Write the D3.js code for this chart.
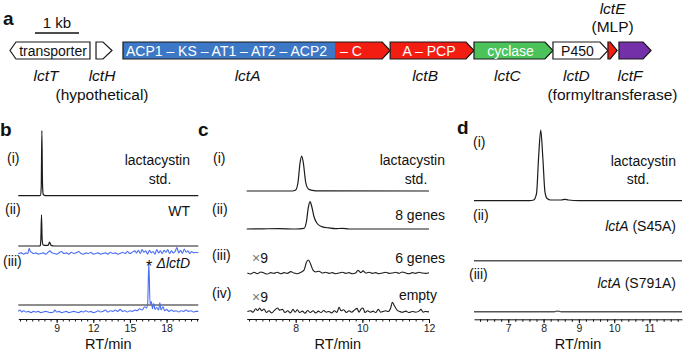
<!DOCTYPE html>
<html><head><meta charset="utf-8">
<script src="https://cdn.jsdelivr.net/npm/d3@7"></script>
<style>
body{margin:0;background:#fff}
svg text{font-family:"Liberation Sans",Arial,Helvetica,sans-serif;fill:#111}
</style></head>
<body><svg id="chart" width="685" height="351"></svg>
<script>
// ---------------- DATA ----------------
// Panel a: gene cluster (kb)
const geneNames   = ["lctT","lctH","lctA","lctB","lctC","lctD","lctE","lctF"];
const geneStartKb = [0, 1.955, 2.568, 8.64, 10.545, 12.34, 13.59, 13.84];
const geneEndKb   = [1.818, 2.318, 8.64, 10.545, 12.34, 13.59, 13.80, 14.57];
const geneStrand  = [-1, 1, 1, 1, 1, 1, 1, 1];
const geneDomains = ["transporter", "", "ACP1 – KS – AT1 – AT2 – ACP2", "A – PCP", "cyclase", "P450", "", ""];
const geneNotes   = ["", "(hypothetical)", "", "", "", "(formyltransferase)", "(MLP)", ""];
const lctA_C_startKb = 7.386;   // start of the C domain in lctA
const scaleBarKb = 1;

// Panel b: RT (min) vs intensity (std. peak = 100)
const bTicks = [9, 12, 15, 18];
const bStd = [[5.86,0],[7.6,0],[7.68,0.5],[7.74,15],[7.79,100],[7.84,20],[7.9,2],[8.0,0.5],[8.2,0],[20.6,0]];
const bWT = [[5.86,0],[7.6,0],[7.66,1],[7.71,12],[7.76,48],[7.81,12],[7.88,2],[8.0,1],[8.3,1],[8.42,6],[8.55,1],[8.8,0],[20.6,0]];
const bWTblue = [[5.86,0],[6.1,1],[6.3,-1],[6.5,1],[6.65,0],[6.75,8],[6.85,3],[6.95,2],[7.1,0],[7.3,1],[7.5,-1],[7.7,0],[7.9,1],[8.1,-1],[8.3,2],[8.45,4],[8.6,1],[8.8,0],[9.0,-1],[9.2,1],[9.4,3],[9.6,0],[9.8,1],[10.0,-1],[10.2,2],[10.4,0],[10.6,1],[10.8,3],[11.0,0],[11.2,-1],[11.4,1],[11.6,0],[11.8,2],[12.0,-1],[12.2,0],[12.4,1],[12.6,-1],[12.8,0],[13.0,1],[13.2,-1],[13.4,2],[13.6,0],[13.8,1],[14.0,-1],[14.2,0],[14.4,2],[14.6,0],[14.8,3],[15.0,0],[15.2,2],[15.4,4],[15.55,1],[15.7,5],[15.85,0],[16.0,6],[16.15,2],[16.3,4],[16.45,-1],[16.6,5],[16.75,1],[16.9,3],[17.05,-1],[17.2,6],[17.35,1],[17.5,4],[17.65,0],[17.8,5],[17.95,2],[18.1,6],[18.25,0],[18.4,4],[18.55,1],[18.7,3],[18.85,9],[19.0,1],[19.15,5],[19.3,0],[19.45,7],[19.6,2],[19.75,4],[19.9,0],[20.05,3],[20.2,1],[20.4,2],[20.6,1]];
const bDlctD = [[5.86,0],[20.6,0]];
const bDlctDblue = [[5.86,1],[6.0,3],[6.15,0],[6.3,2],[6.5,0],[6.7,1],[6.9,-1],[7.1,1],[7.3,0],[7.5,1],[7.7,-1],[7.9,0],[8.1,1],[8.3,0],[8.5,-1],[8.75,0],[8.85,3],[9.0,0],[9.2,1],[9.4,-1],[9.6,0],[9.8,1],[10.0,-1],[10.2,0],[10.4,1],[10.6,0],[10.8,-1],[11.0,1],[11.2,0],[11.4,2],[11.6,0],[11.8,1],[12.0,-1],[12.2,0],[12.4,2],[12.6,0],[12.8,1],[13.0,3],[13.2,0],[13.4,2],[13.6,1],[13.8,3],[14.0,1],[14.2,4],[14.4,1],[14.6,2],[14.8,0],[15.0,2],[15.2,1],[15.4,3],[15.6,2],[15.8,5],[16.0,3],[16.2,8],[16.35,6],[16.45,12],[16.55,75],[16.65,12],[16.75,16],[16.85,5],[16.95,13],[17.05,4],[17.2,7],[17.35,3],[17.45,14],[17.55,3],[17.7,8],[17.85,2],[18.0,4],[18.2,1],[18.4,3],[18.6,1],[18.8,2],[19.0,0],[19.2,2],[19.4,1],[19.6,3],[19.8,1],[20.0,2],[20.2,0],[20.4,1],[20.6,1]];

// Panel c
const cTicks = [8, 10, 12];
const cStd = [[6.53,0],[7.9,0],[8.0,3],[8.07,25],[8.13,80],[8.18,100],[8.23,80],[8.3,25],[8.38,6],[8.5,2],[8.7,0.5],[12,0]];
const c8genes = [[6.53,0],[7.0,0.5],[7.5,1],[8.0,0],[8.25,2],[8.32,20],[8.38,62],[8.43,78],[8.48,65],[8.55,35],[8.65,15],[8.8,6],[9.0,3],[9.2,1],[9.4,2],[9.6,0],[12,0]];
const c6genes = [[6.55,0],[6.65,-3],[6.75,2],[6.85,-2],[6.95,3],[7.05,0],[7.15,-3],[7.25,1],[7.35,-1],[7.45,2],[7.55,-2],[7.65,1],[7.75,-1],[7.85,4],[7.95,0],[8.05,-2],[8.15,2],[8.25,8],[8.32,30],[8.38,37],[8.45,25],[8.52,8],[8.6,3],[8.7,5],[8.8,0],[8.9,2],[9.0,-1],[9.1,1],[9.2,-2],[9.3,0],[9.4,2],[9.5,-1],[9.6,1],[9.7,-2],[9.8,0],[9.87,8],[9.95,1],[10.02,6],[10.1,0],[10.2,2],[10.3,-1],[10.4,1],[10.5,-2],[10.6,0],[10.7,2],[10.8,-1],[10.9,0],[11.0,2],[11.1,-1],[11.2,3],[11.3,0],[11.4,-2],[11.5,1],[11.6,-1],[11.7,2],[11.8,0],[11.9,-1],[12.0,1]];
const cEmpty = [[6.55,0],[6.65,2],[6.72,-2],[6.8,8],[6.86,3],[6.92,10],[6.98,2],[7.05,7],[7.12,-3],[7.2,2],[7.28,-4],[7.36,3],[7.45,10],[7.52,4],[7.6,6],[7.68,-3],[7.76,2],[7.84,-4],[7.92,6],[7.98,-2],[8.05,5],[8.12,-3],[8.2,1],[8.28,-5],[8.36,3],[8.44,-3],[8.52,2],[8.6,-4],[8.68,1],[8.76,-3],[8.84,3],[8.92,-2],[9.0,0],[9.08,-4],[9.16,2],[9.24,-3],[9.3,12],[9.36,2],[9.44,5],[9.52,-3],[9.6,2],[9.68,-2],[9.76,4],[9.84,9],[9.9,-2],[9.96,7],[10.02,10],[10.08,-3],[10.16,2],[10.24,-2],[10.32,1],[10.4,-3],[10.48,6],[10.55,-2],[10.62,0],[10.7,2],[10.78,0],[10.85,10],[10.9,26],[10.97,15],[11.05,3],[11.12,0],[11.2,-2],[11.3,1],[11.4,-3],[11.5,0],[11.6,-2],[11.7,1],[11.76,6],[11.82,-2],[11.9,0],[12.0,-1]];

// Panel d
const dTicks = [7, 8, 9, 10, 11];
const dStd = [[6.03,0],[7.6,0],[7.72,1],[7.8,10],[7.86,62],[7.92,100],[7.98,60],[8.04,12],[8.1,3],[8.2,1],[8.5,1],[8.6,2],[8.7,1],[9.0,0],[11.92,0]];
const dS45A = [[6.03,0],[11.92,0]];
const dS791A = [[6.03,0],[8.3,0],[8.4,0.8],[8.5,0],[11.92,0]];

// ---------------- DRAW ----------------
const svg = d3.select("#chart");
const FONT = 14;

function txt(x, y, s, opt = {}) {
  const t = svg.append("text").attr("x", x).attr("y", y)
    .attr("font-size", opt.size || FONT)
    .attr("text-anchor", opt.anchor || "start");
  if (opt.bold) t.attr("font-weight", "bold");
  if (opt.italic) t.attr("font-style", "italic");
  if (opt.fill) t.style("fill", opt.fill);
  t.text(s);
  return t;
}

// ---- Panel a ----
const xKb = d3.scaleLinear().domain([0, 1]).range([10, 54]);
const geneTop = 42, geneBot = 59, geneMid = (geneTop + geneBot) / 2;
const geneFill = {lctT:"#ffffff", lctH:"#ffffff", lctA:"#f41d12", lctB:"#f41d12", lctC:"#4cc25b", lctD:"#ffffff", lctE:"#f41d12", lctF:"#7430a8"};
const domainColor = {lctT:"#111", lctA:"#fff", lctB:"#fff", lctC:"#fff", lctD:"#111"};
const headLen = {lctT:6, lctH:9, lctE:7};

function arrowPath(x0, x1, strand, h) {
  h = Math.min(h, x1 - x0);
  if (strand > 0)
    return `M${x0},${geneTop}L${x1-h},${geneTop}L${x1},${geneMid}L${x1-h},${geneBot}L${x0},${geneBot}Z`;
  return `M${x1},${geneTop}L${x0+h},${geneTop}L${x0},${geneMid}L${x0+h},${geneBot}L${x1},${geneBot}Z`;
}

txt(3, 25, "a", {size: 19, bold: true});
// scale bar
const sbX = 35;
svg.append("line").attr("x1", sbX).attr("x2", sbX + xKb(scaleBarKb) - xKb(0))
  .attr("y1", 33).attr("y2", 33).attr("stroke", "#111").attr("stroke-width", 1.3);
txt(sbX + (xKb(scaleBarKb) - xKb(0)) / 2, 28, "1 kb", {anchor: "middle", size: 15});

const defs = svg.append("defs");
geneNames.forEach((name, i) => {
  const x0 = xKb(geneStartKb[i]), x1 = xKb(geneEndKb[i]);
  const h = headLen[name] || 8;
  const p = arrowPath(x0, x1, geneStrand[i], h);
  svg.append("path").attr("d", p).attr("fill", geneFill[name]);
  if (name === "lctA") {
    defs.append("clipPath").attr("id", "clipA").append("path").attr("d", p);
    svg.append("rect").attr("x", x0).attr("y", geneTop)
      .attr("width", xKb(lctA_C_startKb) - x0).attr("height", geneBot - geneTop)
      .attr("fill", "#3d78c6").attr("clip-path", "url(#clipA)");
  }
  svg.append("path").attr("d", p).attr("fill", "none").attr("stroke", "#1a1a1a").attr("stroke-width", 1.2);
});

// domain texts
const iA = geneNames.indexOf("lctA");
txt(xKb(geneStartKb[iA]) + 3, geneMid + 5, geneDomains[iA], {fill: "#fff"});
txt(xKb(lctA_C_startKb) + 5, geneMid + 5, "– C", {fill: "#fff"});
geneNames.forEach((name, i) => {
  if (!geneDomains[i] || name === "lctA") return;
  let cx = (xKb(geneStartKb[i]) + xKb(geneEndKb[i])) / 2;
  if (name === "lctT") cx += 3; else cx -= 3;
  txt(cx, geneMid + 5, geneDomains[i], {anchor: "middle", fill: domainColor[name]});
});

// gene labels
const labelDx = {lctT:-4, lctH:-2, lctA:-9, lctB:-7, lctC:-6, lctD:-4, lctE:0, lctF:-5};
geneNames.forEach((name, i) => {
  const cx = (xKb(geneStartKb[i]) + xKb(geneEndKb[i])) / 2 + labelDx[name];
  if (name === "lctE") {
    txt(cx, 14, name, {anchor: "middle", italic: true, size: 15.5});
    txt(cx, 32, geneNotes[i], {anchor: "middle", size: 15.5});
  } else {
    txt(cx, 81, name, {anchor: "middle", italic: true, size: 15.5});
    if (geneNotes[i]) txt(cx + (name === "lctD" ? 36 : 0), 100, geneNotes[i], {anchor: "middle", size: 15.5});
  }
});

// ---- chromatogram helpers ----
function drawAxis(x, y, major, minorStep, label) {
  const [d0, d1] = x.domain();
  const minor = d3.range(Math.ceil(d0 / minorStep) * minorStep, d1 + 1e-6, minorStep);
  svg.append("g").attr("transform", `translate(0,${y})`)
    .call(d3.axisBottom(x).tickValues(minor).tickSize(2.5).tickFormat("").tickSizeOuter(0))
    .call(g => g.selectAll("line,path").attr("stroke", "#111"));
  const gM = svg.append("g").attr("transform", `translate(0,${y})`)
    .call(d3.axisBottom(x).tickValues(major).tickSize(4).tickPadding(1.5).tickFormat(d3.format("d")).tickSizeOuter(0));
  gM.select(".domain").remove();
  gM.selectAll("line").attr("stroke", "#111");
  gM.selectAll("text").attr("font-size", 10.5).attr("font-family", '"Liberation Sans",Arial,sans-serif').style("fill", "#222");
  const [r0, r1] = x.range();
  txt((r0 + r1) / 2, 348.5, label, {anchor: "middle", size: 14.5});
}
function drawTrace(x, data, base, pxPer100, color, width) {
  const y = d3.scaleLinear().domain([0, 100]).range([base, base - pxPer100]);
  svg.append("path").datum(data)
    .attr("d", d3.line().x(d => x(d[0])).y(d => y(d[1])).curve(d3.curveMonotoneX))
    .attr("fill", "none").attr("stroke", color).attr("stroke-width", width)
    .attr("stroke-linejoin", "round");
}
const BLUE = "#4a6df5", BLACK = "#1c1c1c";

// ---- Panel b ----
const xb = d3.scaleLinear().domain([5.86, 20.6]).range([18.3, 198.3]);
txt(0, 136, "b", {size: 19, bold: true});
drawTrace(xb, bStd, 195.7, 65, BLACK, 1.2);
drawTrace(xb, bWT, 246, 65, BLACK, 1.2);
drawTrace(xb, bWTblue, 253.5, 65, BLUE, 1.1);
drawTrace(xb, bDlctD, 305, 65, BLACK, 1.2);
drawTrace(xb, bDlctDblue, 312, 65, BLUE, 1.1);
drawAxis(xb, 319, bTicks, 0.5, "RT/min");
txt(7, 163, "(i)");
txt(190, 165, "lactacystin", {anchor: "end"});
txt(160, 184, "std.", {anchor: "middle"});
txt(5, 214, "(ii)");
txt(190, 216, "WT", {anchor: "end"});
txt(3, 266, "(iii)");
txt(149, 272, "*", {anchor: "middle", size: 16});
const dl = txt(190, 268, "", {anchor: "end", italic: true});
dl.append("tspan").text("Δ");
dl.append("tspan").text("lctD");

// ---- Panel c ----
const xc = d3.scaleLinear().domain([6.53, 12]).range([246.7, 429]);
txt(198, 136, "c", {size: 19, bold: true});
drawTrace(xc, cStd, 191, 35, BLACK, 1.2);
drawTrace(xc, c8genes, 229, 35, BLACK, 1.2);
drawTrace(xc, c6genes, 273, 35, BLACK, 1.1);
drawTrace(xc, cEmpty, 311.5, 35, BLACK, 1.1);
drawAxis(xc, 319, cTicks, 0.2, "RT/min");
txt(213, 163, "(i)");
txt(445, 165, "lactacystin", {anchor: "end"});
txt(416, 184, "std.", {anchor: "middle"});
txt(212, 214, "(ii)");
txt(445, 220, "8 genes", {anchor: "end"});
txt(212, 260, "(iii)");
const t9a = txt(252, 263, "");
t9a.append("tspan").text("×").style("fill", "#777");
t9a.append("tspan").text("9");
txt(445, 263, "6 genes", {anchor: "end"});
txt(212, 298, "(iv)");
const t9b = txt(252, 302, "");
t9b.append("tspan").text("×").style("fill", "#777");
t9b.append("tspan").text("9");
txt(437, 300, "empty", {anchor: "end"});

// ---- Panel d ----
const xd = d3.scaleLinear().domain([6.03, 11.92]).range([474, 682]);
txt(457, 134, "d", {size: 19, bold: true});
drawTrace(xd, dStd, 200.7, 70.7, BLACK, 1.2);
drawTrace(xd, dS45A, 260.7, 70.7, "#555", 1.4);
drawTrace(xd, dS791A, 311.7, 70.7, "#555", 1.4);
drawAxis(xd, 319.3, dTicks, 0.2, "RT/min");
txt(473, 147, "(i)");
txt(676, 166, "lactacystin", {anchor: "end"});
txt(638, 184, "std.", {anchor: "middle"});
txt(473, 220, "(ii)");
const sa = txt(676, 231, "", {anchor: "end"});
sa.append("tspan").text("lctA").attr("font-style", "italic");
sa.append("tspan").text(" (S45A)");
txt(469, 279, "(iii)");
const sb = txt(676, 288, "", {anchor: "end"});
sb.append("tspan").text("lctA").attr("font-style", "italic");
sb.append("tspan").text(" (S791A)");
</script></body></html>
